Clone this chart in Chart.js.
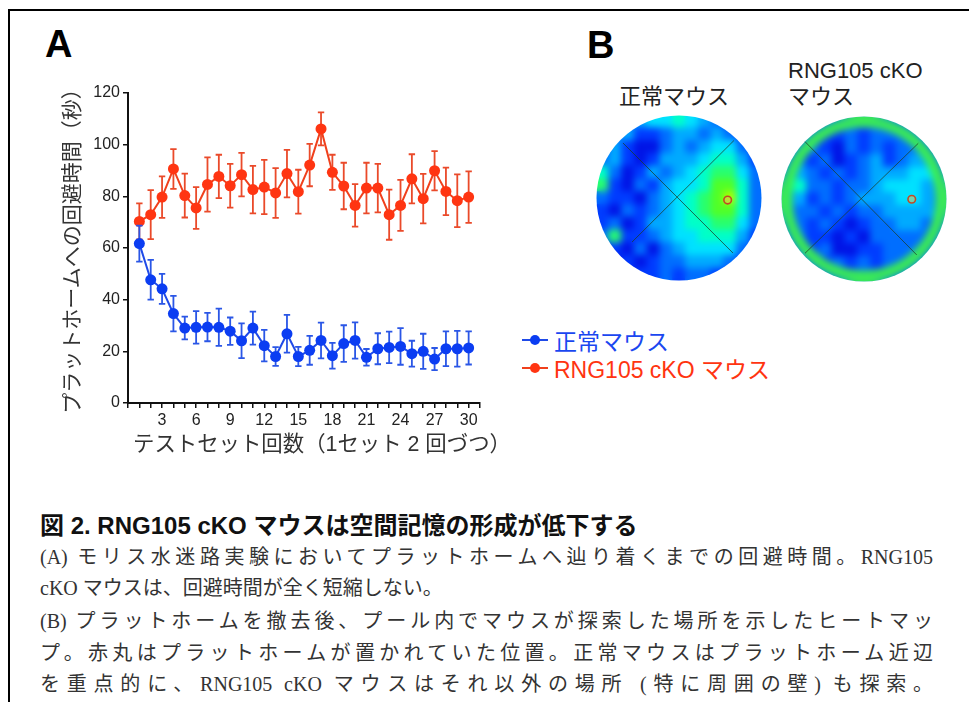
<!DOCTYPE html>
<html lang="ja">
<head>
<meta charset="utf-8">
<script src="https://cdn.jsdelivr.net/npm/chart.js@4.4.1/dist/chart.umd.min.js"></script>
<style>
  body { margin: 0; background: #fff; width: 969px; height: 702px; overflow: hidden; position: relative;
         font-family: 'Liberation Sans', 'Noto Sans CJK JP', sans-serif; }
  .frame { position: absolute; left: 8px; top: 9px; width: 1000px; height: 800px; border: 2px solid #000; box-sizing: border-box; }
  .abs { position: absolute; white-space: nowrap; }
  .panel { font-weight: bold; font-size: 38px; line-height: 38px; color: #000; }
  .maptitle { font-size: 22px; line-height: 26px; color: #222; }
  .axis-title { position: absolute; white-space: nowrap; font-size: 21px; line-height: 24px; color: #333; text-align: center; }
  .legend-row { position: absolute; left: 522px; height: 26px; display: flex; align-items: center; font-size: 23px; }
  .legend-row .mk { position: relative; width: 26px; height: 24px; margin-right: 6px; }
  .legend-row .mk i { position: absolute; left: 0; top: 11px; width: 26px; height: 2px; }
  .legend-row .mk b { position: absolute; left: 8px; top: 7px; width: 10px; height: 10px; border-radius: 50%; }
  .cap { position: absolute; left: 40px; width: 893px; white-space: nowrap; font-family: 'Liberation Serif', 'Noto Sans CJK JP', serif;
         font-size: 20px; line-height: 28px; color: #333; }
  .cap.j { white-space: normal; text-align: justify; text-align-last: justify; text-justify: inter-character; }
  .caption-title { left: 40px; top: 511px; font-size: 24px; line-height: 30px; font-weight: bold; color: #111; }
  canvas { position: absolute; }
</style>
</head>
<body>
<div class="frame"></div>
<div class="abs panel" style="left:45px; top:25px;">A</div>
<div class="abs panel" style="left:587px; top:26px;">B</div>
<div class="abs maptitle" style="left:619px; top:84px;">正常マウス</div>
<div class="abs maptitle" style="left:788px; top:58px;">RNG105 cKO</div>
<div class="abs maptitle" style="left:788px; top:84px;">マウス</div>

<canvas id="lineChart" width="500" height="470" style="left:0; top:0;"></canvas>
<canvas id="heatNormalChart" width="166" height="166" style="left:596px; top:115px;"></canvas>
<canvas id="heatCkoChart" width="166" height="166" style="left:781px; top:116px;"></canvas>

<div class="axis-title" style="left:-98px; top:234px; width:340px; transform:rotate(-90deg);">プラットホームへの回避時間（秒）</div>
<div class="axis-title" style="left:133px; top:432px; width:380px; text-align:left; font-size:21.4px;">テストセット回数（1セット 2 回づつ）</div>

<div class="legend-row" style="top:327px; color:#1a47f0;">
  <span class="mk"><i style="background:#1f4ae8"></i><b style="background:#0b3df2"></b></span>正常マウス
</div>
<div class="legend-row" style="top:355px; color:#ff3410;">
  <span class="mk"><i style="background:#f0401c"></i><b style="background:#ff3512"></b></span>RNG105 cKO マウス
</div>

<div class="abs caption-title">図 2. RNG105 cKO マウスは空間記憶の形成が低下する</div>
<div class="cap j" style="top:543px;">(A) モリス水迷路実験においてプラットホームへ辿り着くまでの回避時間。RNG105</div>
<div class="cap" style="top:574px;">cKO マウスは、回避時間が全く短縮しない。</div>
<div class="cap j" style="top:607px;">(B) プラットホームを撤去後、プール内でマウスが探索した場所を示したヒートマッ</div>
<div class="cap j" style="top:639px;">プ。赤丸はプラットホームが置かれていた位置。正常マウスはプラットホーム近辺</div>
<div class="cap j" style="top:670px;">を重点的に、RNG105 cKO マウスはそれ以外の場所 (特に周囲の壁) も探索。</div>

<script>
// test sets (x axis)
const testSets = [1, 2, 3, 4, 5, 6, 7, 8, 9, 10, 11, 12, 13, 14, 15, 16, 17, 18, 19, 20, 21, 22, 23, 24, 25, 26, 27, 28, 29, 30];

// escape latency (sec), mean and error
const normalMean = [61.7, 47.7, 44.2, 34.6, 29.0, 29.3, 29.4, 29.3, 27.8, 24.1, 29.0, 22.2, 18.0, 26.8, 18.0,
                    20.4, 24.2, 18.3, 23.0, 24.2, 17.7, 21.0, 21.5, 21.9, 19.1, 20.0, 17.0, 21.0, 21.0, 21.3];
const normalErr  = [7.0, 7.7, 5.8, 6.9, 4.4, 6.3, 5.5, 7.2, 5.3, 6.7, 6.4, 6.1, 3.6, 7.3, 3.7,
                    5.6, 6.9, 5.0, 7.1, 7.0, 3.2, 6.0, 6.1, 7.1, 5.0, 6.8, 4.3, 6.7, 6.9, 6.4];
const ckoMean    = [70.3, 72.9, 79.7, 90.6, 80.3, 75.5, 84.6, 87.7, 84.1, 88.4, 82.6, 83.6, 81.3, 88.8, 81.8,
                    92.1, 106.1, 89.3, 84.0, 76.5, 83.2, 83.2, 72.9, 76.5, 86.8, 79.1, 89.9, 81.9, 78.3, 79.7];
const ckoErr     = [7.0, 9.5, 8.0, 7.7, 8.5, 8.1, 10.5, 8.4, 8.5, 8.4, 9.2, 10.5, 9.6, 9.2, 8.5,
                    8.2, 6.4, 6.8, 9.0, 8.2, 9.8, 9.4, 9.7, 9.9, 9.5, 9.6, 7.6, 9.2, 10.2, 10.0];

const yTicks = [0, 20, 40, 60, 80, 100, 120];
const xLabelTicks = [3, 6, 9, 12, 15, 18, 21, 24, 27, 30];

// heat maps: 13 x 13 occupancy level (0 = low, 9 = high), rows top to bottom
const heatNormal = [
  [2, 2, 3, 4, 5, 5, 6, 5, 4, 3, 2, 2, 2],
  [2, 3, 4, 2, 2, 3, 4, 4, 3, 4, 3, 2, 2],
  [2, 4, 2, 1, 1, 3, 4, 3, 4, 5, 5, 3, 2],
  [3, 4, 2, 1, 2, 4, 4, 4, 5, 6, 6, 4, 2],
  [6, 3, 1, 2, 4, 3, 4, 5, 6, 7, 7, 5, 3],
  [7, 2, 1, 3, 2, 4, 5, 5, 6, 8, 8, 6, 3],
  [3, 2, 2, 1, 3, 4, 5, 6, 7, 8, 9, 6, 3],
  [2, 1, 3, 2, 3, 4, 5, 6, 7, 8, 8, 6, 3],
  [2, 3, 1, 2, 4, 4, 5, 6, 6, 7, 7, 5, 3],
  [3, 7, 2, 2, 3, 4, 5, 5, 6, 6, 6, 4, 2],
  [2, 2, 1, 3, 1, 3, 4, 5, 5, 5, 5, 3, 2],
  [2, 1, 2, 1, 2, 3, 3, 4, 4, 4, 3, 2, 2],
  [2, 2, 1, 2, 2, 3, 2, 3, 3, 2, 2, 2, 2]
];
const heatCko = [
  [3, 3, 3, 3, 3, 3, 3, 3, 3, 3, 3, 3, 3],
  [3, 3, 3, 2, 2, 3, 2, 3, 3, 3, 3, 3, 3],
  [3, 3, 3, 2, 1, 3, 2, 3, 2, 3, 3, 3, 3],
  [3, 3, 2, 3, 1, 2, 3, 4, 2, 3, 4, 4, 3],
  [3, 4, 3, 2, 3, 2, 3, 4, 4, 4, 5, 5, 3],
  [3, 6, 3, 3, 2, 3, 3, 4, 5, 5, 5, 4, 3],
  [3, 4, 2, 3, 2, 3, 4, 4, 4, 5, 5, 4, 3],
  [3, 3, 3, 2, 3, 2, 3, 3, 4, 4, 4, 4, 3],
  [3, 3, 2, 3, 2, 1, 2, 3, 3, 4, 4, 3, 3],
  [3, 3, 2, 2, 1, 2, 1, 3, 3, 3, 3, 3, 3],
  [3, 3, 2, 3, 1, 1, 2, 2, 3, 3, 3, 3, 3],
  [3, 3, 3, 2, 3, 2, 3, 2, 3, 3, 3, 3, 3],
  [3, 3, 3, 3, 3, 3, 3, 3, 3, 3, 3, 3, 3]
];
const platformNormal = [10.31, 6.66];
const platformCko = [10.24, 6.52];
const diagNormal = [[[2.11, 2.19], [10.73, 10.81]], [[10.8, 2.0], [2.82, 9.95]]];
const diagCko = [[[1.88, 2.01], [10.63, 10.88]], [[10.75, 2.14], [1.88, 10.75]]];
const poolCenter = [6.5, 6.5];

const FONT = "'Liberation Sans', 'Noto Sans CJK JP', sans-serif";
const heatStops = [
  [0, 0, 190], [0, 20, 230], [0, 60, 255], [0, 110, 255], [0, 170, 255],
  [0, 225, 255], [0, 255, 200], [40, 255, 110], [80, 255, 40], [170, 255, 0]
];
const heatColor = v => `rgb(${heatStops[v].join(',')})`;

// error bars drawn just before each dataset, so bars sit under their own points
const errorBars = {
  id: 'errorBars',
  beforeDatasetDraw(chart, args) {
    const ds = chart.data.datasets[args.index];
    if (!ds.errors) return;
    const { ctx, scales: { x, y } } = chart;
    ctx.save();
    ctx.strokeStyle = ds.errorColor;
    ctx.lineWidth = 1.8;
    ds.data.forEach((p, i) => {
      const px = x.getPixelForValue(p.x);
      const top = y.getPixelForValue(p.y + ds.errors[i]);
      const bot = y.getPixelForValue(p.y - ds.errors[i]);
      ctx.beginPath();
      ctx.moveTo(px, top); ctx.lineTo(px, bot);
      ctx.moveTo(px - 3.2, top); ctx.lineTo(px + 3.2, top);
      ctx.moveTo(px - 3.2, bot); ctx.lineTo(px + 3.2, bot);
      ctx.stroke();
    });
    ctx.restore();
  }
};

new Chart(document.getElementById('lineChart'), {
  type: 'line',
  data: {
    datasets: [
      {
        label: '正常マウス',
        data: testSets.map((x, i) => ({ x, y: normalMean[i] })),
        errors: normalErr,
        errorColor: '#2a56e6',
        borderColor: '#1f4ae8',
        backgroundColor: '#0b3df2',
        pointBackgroundColor: '#0b3df2',
        pointBorderWidth: 0,
        pointRadius: 5.5,
        borderWidth: 2,
        tension: 0
      },
      {
        label: 'RNG105 cKO マウス',
        data: testSets.map((x, i) => ({ x, y: ckoMean[i] })),
        errors: ckoErr,
        errorColor: '#ea4a2a',
        borderColor: '#f0401c',
        backgroundColor: '#ff3512',
        pointBackgroundColor: '#ff3512',
        pointBorderWidth: 0,
        pointRadius: 5.5,
        borderWidth: 2,
        tension: 0
      }
    ]
  },
  options: {
    responsive: false,
    animation: false,
    events: [],
    clip: false,
    layout: { autoPadding: false, padding: { left: 56, top: 93, right: 20, bottom: 9 } },
    plugins: { legend: { display: false }, tooltip: { enabled: false } },
    scales: {
      x: {
        type: 'linear',
        min: 0,
        max: 31,
        border: { color: '#111', width: 2 },
        grid: { drawOnChartArea: false, drawTicks: true, tickLength: 5, color: '#111', lineWidth: 1.5 },
        ticks: {
          stepSize: 1,
          autoSkip: false,
          maxRotation: 0,
          padding: 3,
          color: '#222',
          font: { family: FONT, size: 16 },
          callback: v => xLabelTicks.includes(v) ? String(v) : ''
        },
        // axis title is set as page text below the canvas (it is wider than the plot)
        afterFit: s => { s.height = 58; }
      },
      y: {
        min: 0,
        max: 120,
        border: { color: '#111', width: 2 },
        grid: { drawOnChartArea: false, drawTicks: true, tickLength: 5, color: '#111', lineWidth: 1.5 },
        afterBuildTicks: s => { s.ticks = yTicks.map(v => ({ value: v })); },
        ticks: { padding: 3, color: '#222', font: { family: FONT, size: 16 } },
        afterFit: s => { s.width = 72; }
      }
    }
  },
  plugins: [errorBars]
});

// blur what has been drawn so far and keep only the round pool
const heatBlur = {
  id: 'heatBlur',
  afterDatasetDraw(chart, args) {
    const ds = chart.data.datasets[args.index];
    if (!ds.blurAfter) return;
    const { ctx, canvas, chartArea: a } = chart;
    const cx = (a.left + a.right) / 2, cy = (a.top + a.bottom) / 2, r = Math.max((a.right - a.left) / 2 - 0.5, 1);
    ctx.save();
    ctx.setTransform(1, 0, 0, 1, 0, 0);
    ctx.filter = 'blur(3.5px)';
    ctx.drawImage(canvas, 0, 0);
    ctx.filter = 'none';
    ctx.globalCompositeOperation = 'destination-in';
    ctx.fillStyle = '#000';
    ctx.beginPath();
    ctx.arc(cx, cy, r, 0, Math.PI * 2);
    ctx.fill();
    ctx.restore();
  }
};

function makeHeat(id, grid, platform, diags, withRing) {
  const cells = [];
  const colors = [];
  grid.forEach((row, r) => row.forEach((v, c) => {
    cells.push({ x: c + 0.5, y: r + 0.5 });
    colors.push(heatColor(v));
  }));
  const datasets = [
    {
      label: 'heat', type: 'scatter', data: cells, order: 4, blurAfter: !withRing,
      pointStyle: 'rect', pointRadius: 9.6, pointBackgroundColor: colors, pointBorderWidth: 0
    }
  ];
  if (withRing) {
    datasets.push({
      label: 'ring', type: 'scatter', data: [{ x: poolCenter[0], y: poolCenter[1] }], order: 3, blurAfter: true,
      pointRadius: 77, pointBorderWidth: 11, pointBorderColor: 'rgb(60,238,80)', pointBackgroundColor: 'rgba(0,0,0,0)'
    });
  }
  diags.forEach(d => datasets.push({
    label: 'diag', type: 'line', order: 2, data: d.map(p => ({ x: p[0], y: p[1] })),
    borderColor: 'rgba(30,60,40,0.75)', borderWidth: 1, pointRadius: 0
  }));
  datasets.push({
    label: 'platform', type: 'scatter', order: 1, data: [{ x: platform[0], y: platform[1] }],
    pointRadius: 3.8, pointBorderWidth: 1.6, pointBorderColor: '#c24a25', pointBackgroundColor: 'rgba(230,200,90,0.5)'
  });
  new Chart(document.getElementById(id), {
    type: 'scatter',
    data: { datasets },
    options: {
      responsive: false,
      animation: false,
      events: [],
      clip: false,
      layout: { autoPadding: false, padding: 0 },
      plugins: { legend: { display: false }, tooltip: { enabled: false } },
      scales: {
        x: { display: false, min: 0, max: 13 },
        y: { display: false, min: 0, max: 13, reverse: true }
      }
    },
    plugins: [heatBlur]
  });
}

makeHeat('heatNormalChart', heatNormal, platformNormal, diagNormal, false);
makeHeat('heatCkoChart', heatCko, platformCko, diagCko, true);
</script>
</body>
</html>
